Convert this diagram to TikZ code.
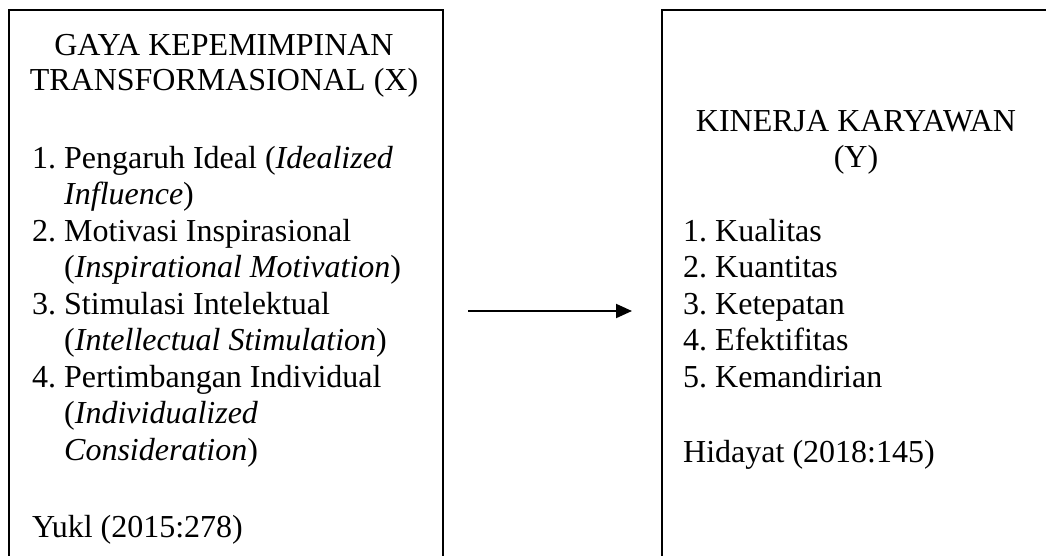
\documentclass[tikz,border=0pt]{standalone}
\usepackage{fontspec}
\setmainfont{Liberation Serif}
\usetikzlibrary{arrows.meta}

\begin{document}
\begin{tikzpicture}[x=1pt,y=-1pt,
        panel/.style={draw, line width=2.4pt, minimum height=602pt, inner sep=0pt, outer sep=0pt},
        flow/.style={line width=2pt, -{Triangle[length=16pt,width=14pt]}},
        every node/.style={inner sep=0pt, font=\fontsize{32}{36.5}\selectfont}]
        \useasboundingbox (0,0) rectangle (1046,555);
        \clip (0,0) rectangle (1046,555);

        \node[panel, minimum width=434pt] (gaya) at (226,311) {};
        \node[panel, minimum width=388pt] (kinerja) at (856,311) {};

        \node[anchor=base] (gayaTitleA) at (224,55) {GAYA KEPEMIMPINAN};
        \node[anchor=base] (gayaTitleB) at (224,90) {TRANSFORMASIONAL (X)};
        \node[anchor=base west] (gayaList) at (32,168) {
            \begin{tabular}[t]{@{}l@{\ }l@{}}
                1. & Pengaruh Ideal (\textit{Idealized} \\
                   & \textit{Influence}) \\
                2. & Motivasi Inspirasional \\
                   & (\textit{Inspirational Motivation}) \\
                3. & Stimulasi Intelektual \\
                   & (\textit{Intellectual Stimulation}) \\
                4. & Pertimbangan Individual \\
                   & (\textit{Individualized} \\
                   & \textit{Consideration})
            \end{tabular}};
        \node[anchor=base west] (gayaSource) at (32,537) {Yukl (2015:278)};

        \node[anchor=base] (kinerjaTitleA) at (856,131) {KINERJA KARYAWAN};
        \node[anchor=base] (kinerjaTitleB) at (856,167) {(Y)};
        \node[anchor=base west] (kinerjaList) at (683,241) {
            \begin{tabular}[t]{@{}l@{\ }l@{}}
                1. & Kualitas \\
                2. & Kuantitas \\
                3. & Ketepatan \\
                4. & Efektifitas \\
                5. & Kemandirian
            \end{tabular}};
        \node[anchor=base west] (kinerjaSource) at (683,462) {Hidayat (2018:145)};

        \draw[flow] ([xshift=25pt]gaya.east) -- ([xshift=-30pt]kinerja.west);

    \end{tikzpicture}
\end{document}
